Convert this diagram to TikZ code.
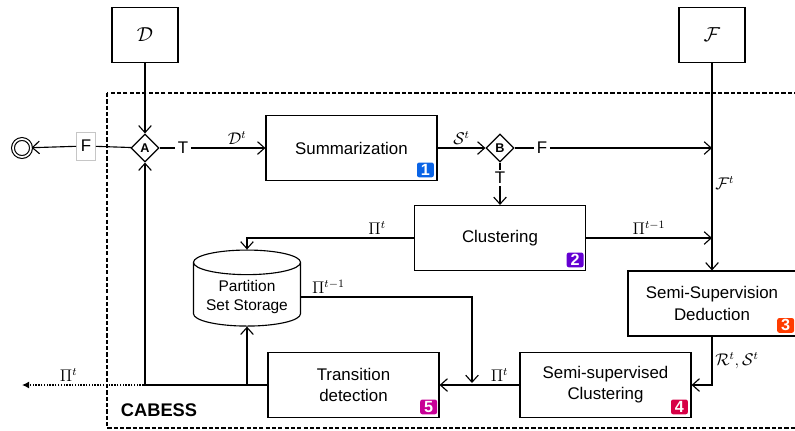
\documentclass[tikz,border=0pt]{standalone}
\usepackage{amsmath}
\usepackage{fontspec}
\setmainfont{Liberation Sans}
\usetikzlibrary{shapes.geometric,arrows.meta,positioning}

\definecolor{stepone}{RGB}{10,100,230}
\definecolor{steptwo}{RGB}{100,0,210}
\definecolor{stepthree}{RGB}{255,60,0}
\definecolor{stepfour}{RGB}{215,0,70}
\definecolor{stepfive}{RGB}{200,0,150}

\begin{document}
\begin{tikzpicture}[x=0.025cm, y=-0.025cm, line width=0.8pt, >={Straight Barb[length=5pt,width=9pt]},
    proc/.style={draw, rectangle, minimum width=4.275cm, minimum height=1.625cm, align=center, font=\fontsize{12}{15}\selectfont},
    src/.style={draw, rectangle, minimum width=1.65cm, minimum height=1.375cm, font=\fontsize{14}{16}\selectfont},
    gate/.style={draw, diamond, minimum width=0.7cm, minimum height=0.7cm, inner sep=0pt, font=\bfseries\fontsize{9}{10}\selectfont},
    badge/.style={fill=#1, text=white, rounded corners=1.5pt, inner sep=0pt, minimum width=0.42cm, minimum height=0.37cm, font=\bfseries\fontsize{11.5}{12}\selectfont},
    lbl/.style={font=\fontsize{12}{14}\selectfont, inner sep=1.5pt},
    mlbl/.style={font=\fontsize{11.5}{13}\selectfont, inner sep=2pt}]
    \useasboundingbox (0,0) rectangle (795,430);

    % CABESS frame
    \draw[dash pattern=on 3pt off 1.5pt] (107,93) rectangle (820,428);
    \node[font=\bfseries\fontsize{13}{15}\selectfont] (title) at (159,410) {CABESS};

    % Inputs and gates
    \node[src] (D) at (145,35) {$\mathcal{D}$};
    \node[src] (Fin) at (712,35) {$\mathcal{F}$};
    \node[gate] (A) at (145,148) {A};
    \node[gate] (B) at (500,148) {B};
    \node[circle, draw, double, double distance=1.2pt, minimum size=0.45cm, inner sep=0pt] (end) at (22,148) {};
    \node[lbl, draw=gray!45, line width=0.5pt, fill=white, minimum width=0.475cm, minimum height=0.7cm] (Fa) at (86,146) {F};
    \node[lbl] (Ta) at (183,148) {T};
    \node[lbl] (Fb) at (542,148) {F};
    \node[lbl] (Tb) at (500,178) {T};

    % Process steps
    \node[proc] (Summ) at (351.5,148) {Summarization};
    \node[proc] (Clust) at (500,238) {Clustering};
    \node[proc, minimum width=4.2cm] (SSD) at (712,303.5) {Semi-Supervision\\Deduction};
    \node[proc] (SSC) at (605.5,385) {Semi-supervised\\Clustering};
    \node[proc] (TD) at (353.5,385) {Transition\\detection};
    \node[draw, cylinder, shape border rotate=90, aspect=0.27, minimum width=2.675cm, minimum height=1.9cm,
          align=center, font=\fontsize{11}{13.5}\selectfont] (store) at (247,297) {Partition\\Set Storage};

    % Step badges
    \node[badge=stepone, above left=0.08cm and 0.08cm of Summ.south east] (b1) {1};
    \node[badge=steptwo, above left=0.08cm and 0.05cm of Clust.south east] (b2) {2};
    \node[badge=stepthree, above left=0.08cm and 0.05cm of SSD.south east] (b3) {3};
    \node[badge=stepfour, above left=0.08cm and 0.08cm of SSC.south east] (b4) {4};
    \node[badge=stepfive, above left=0.08cm and 0.05cm of TD.south east] (b5) {5};

    % Junction points
    \coordinate (Fjoin) at (712,148);
    \coordinate (Cjoin) at (712,238);
    \coordinate (Pjoin) at (472,383);
    \coordinate (Sjoin) at (247,385);
    \coordinate (out) at (22,385);

    % Connectors
    \draw[->] (D) -- (A);
    \draw (A) -- (Fa);
    \draw[->] (Fa) -- (end);
    \draw (A) -- (Ta);
    \draw[->] (Ta) -- node[mlbl, above, pos=0.62] {$\mathcal{D}^t$} (Summ);
    \draw[->] (Summ) -- node[mlbl, above] {$\mathcal{S}^t$} (B);
    \draw (B) -- (Fb);
    \draw[->] (Fb) -- (Fjoin);
    \draw (B) -- (Tb);
    \draw[->] (Tb) -- (Clust);
    \draw[->] (Fin) -- node[mlbl, right, pos=0.58] {$\mathcal{F}^t$} (SSD);
    \draw[->] (Clust) -- node[mlbl, above] {$\Pi^{t-1}$} (Cjoin);
    \draw[->] (Clust) -| node[mlbl, above, pos=0.11] {$\Pi^t$} (store);
    \draw[->] (SSD) |- node[mlbl, right, pos=0.25] {$\mathcal{R}^t, \mathcal{S}^t$} (SSC);
    \draw[->] (SSC) -- node[mlbl, above, pos=0.25] {$\Pi^t$} (TD);
    \draw[->] (store) -| node[mlbl, above, pos=0.08] {$\Pi^{t-1}$} (Pjoin);
    \draw[->] (TD.west) -| (A);
    \draw[->] (Sjoin) -- (store);
    \draw[densely dotted, line width=1pt, -{Latex[length=5pt,width=5pt]}] (TD) -- node[mlbl, above, pos=0.81] {$\Pi^t$} (out);
\end{tikzpicture}
\end{document}
